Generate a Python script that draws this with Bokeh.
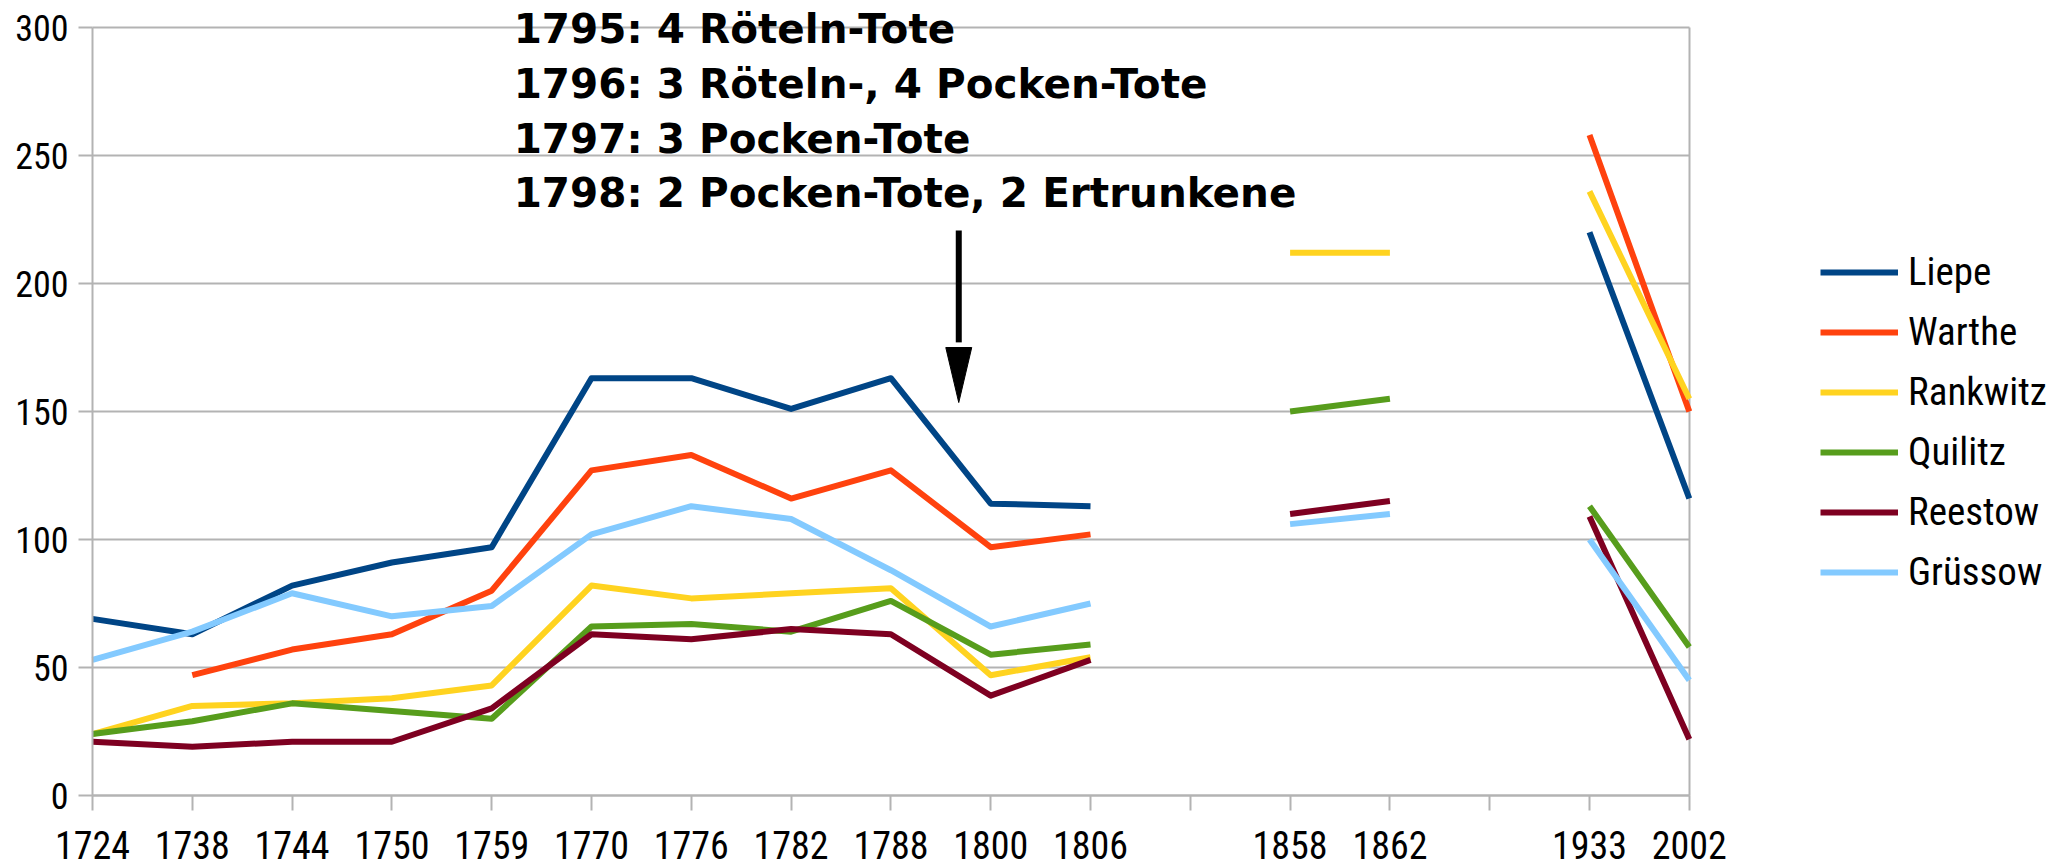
from bokeh.plotting import figure
from bokeh.models import (Range1d, FixedTicker, Legend, LegendItem, Label,
                          ColumnDataSource, Grid)
from bokeh.embed import file_html
from bokeh.resources import INLINE

# ---- data -------------------------------------------------------------
years = ["1724", "1738", "1744", "1750", "1759", "1770", "1776", "1782",
         "1788", "1800", "1806", "", "1858", "1862", "", "1933", "2002"]
N = None
liepe    = [69, 63, 82, 91, 97, 163, 163, 151, 163, 114, 113, N, N, N, N, 220, 116]
warthe   = [N, 47, 57, 63, 80, 127, 133, 116, 127, 97, 102, N, N, N, N, 258, 150]
rankwitz = [24, 35, 36, 38, 43, 82, 77, 79, 81, 47, 54, N, 212, 212, N, 236, 155]
quilitz  = [24, 29, 36, 33, 30, 66, 67, 64, 76, 55, 59, N, 150, 155, N, 113, 58]
reestow  = [21, 19, 21, 21, 34, 63, 61, 65, 63, 39, 53, N, 110, 115, N, 109, 22]
gruessow = [53, 64, 79, 70, 74, 102, 113, 108, 88, 66, 75, N, 106, 110, N, 100, 45]

series_names = ["Liepe", "Warthe", "Rankwitz", "Quilitz", "Reestow", "Grüssow"]
series_values = [liepe, warthe, rankwitz, quilitz, reestow, gruessow]
series_colors = ["#004586", "#ff420e", "#ffd320", "#579d1c", "#7e0021", "#83caff"]

y_ticks = [0, 50, 100, 150, 200, 250, 300]

notes = ["1795: 4 Röteln-Tote",
         "1796: 3 Röteln-, 4 Pocken-Tote",
         "1797: 3 Pocken-Tote",
         "1798: 2 Pocken-Tote, 2 Ertrunkene"]
note_x = 4.22
note_y = [299.6, 278.1, 256.6, 235.2]
arrow_x = 8.68
arrow_top = 220.7
arrow_head_base = 175.0
arrow_tip = 153.5
arrow_head_half = 0.13

# ---- layout -----------------------------------------------------------
W, H = 2065, 866
x0_px = 92                # canvas px of first category
px_x = 99.8               # px per category
px_y = 2.56               # px per unit
y0_px = 795               # canvas px of value 0
n_last = len(years) - 1
y_max = y_ticks[-1]

narrow = "'Liberation Sans Narrow', 'Roboto Condensed', 'DejaVu Sans Condensed', 'Liberation Sans', sans-serif"
grey = "#b3b3b3"

p = figure(width=W, height=H, output_backend="svg", toolbar_location=None,
           x_range=Range1d(-x0_px / px_x, (W - x0_px) / px_x),
           y_range=Range1d(-(H - y0_px) / px_y, y0_px / px_y),
           min_border_left=0, min_border_right=0, min_border_top=0,
           min_border_bottom=0)
p.background_fill_color = "white"
p.border_fill_color = "white"
p.outline_line_color = None

xi = list(range(len(years)))
p.xaxis.ticker = FixedTicker(ticks=xi)
p.xaxis.major_label_overrides = {i: years[i] for i in xi}
p.xaxis.fixed_location = 0
p.xaxis.bounds = (0, n_last)
p.yaxis.ticker = FixedTicker(ticks=y_ticks)
p.yaxis.fixed_location = 0
p.yaxis.bounds = (0, y_max)

for ax in (p.xaxis, p.yaxis):
    ax.axis_line_color = grey
    ax.axis_line_width = 2
    ax.major_tick_line_color = grey
    ax.major_tick_line_width = 2
    ax.minor_tick_line_color = None
    ax.major_tick_in = 0
    ax.major_label_text_font = narrow
    ax.major_label_text_color = "black"

p.xaxis.major_tick_out = 15
p.xaxis.major_label_standoff = 20
p.xaxis.major_label_text_font_size = "38px"
p.yaxis.major_tick_out = 14
p.yaxis.major_label_standoff = 10
p.yaxis.major_label_text_font_size = "36px"

has_cb = "cross_bounds" in Grid.properties()
p.ygrid.grid_line_color = grey
p.ygrid.grid_line_width = 2
p.xgrid.ticker = FixedTicker(ticks=[n_last])
p.xgrid.grid_line_color = grey
p.xgrid.grid_line_width = 2
if has_cb:
    p.ygrid.cross_bounds = (0, n_last)
    p.xgrid.cross_bounds = (0, y_max)
else:
    p.ygrid.grid_line_color = None
    p.xgrid.grid_line_color = None
    p.segment(x0=[0] * len(y_ticks), y0=y_ticks, x1=[n_last] * len(y_ticks), y1=y_ticks,
              line_color=grey, line_width=2)
    p.segment(x0=[n_last], y0=[0], x1=[n_last], y1=[y_max], line_color=grey, line_width=2)

renderers = []
for name, vals, col in zip(series_names, series_values, series_colors):
    ys = [float("nan") if v is None else v for v in vals]
    src = ColumnDataSource(dict(x=xi, y=ys))
    r = p.line("x", "y", source=src, line_color=col, line_width=6,
               line_join="round")
    renderers.append(r)

legend = Legend(items=[LegendItem(label=n, renderers=[r]) for n, r in zip(series_names, renderers)],
                location=(1820, 270), orientation="vertical",
                glyph_width=78, glyph_height=48, label_height=48,
                label_standoff=10, spacing=12, padding=0, margin=0,
                border_line_color=None, background_fill_alpha=0,
                label_text_font=narrow, label_text_font_size="39px",
                label_text_color="black")
p.add_layout(legend)

for txt, yy in zip(notes, note_y):
    p.add_layout(Label(x=note_x, y=yy, text=txt, text_font="DejaVu Sans",
                       text_font_style="bold", text_font_size="40.5px",
                       text_baseline="middle", text_align="left",
                       text_color="black"))

# arrow: shaft + head
p.segment(x0=[arrow_x], y0=[arrow_top], x1=[arrow_x], y1=[arrow_head_base + 2],
          line_color="black", line_width=6)
p.patch(x=[arrow_x - arrow_head_half, arrow_x + arrow_head_half, arrow_x],
        y=[arrow_head_base, arrow_head_base, arrow_tip],
        fill_color="black", line_color="black", line_width=1)

open("out.html", "w").write(file_html(p, INLINE))
